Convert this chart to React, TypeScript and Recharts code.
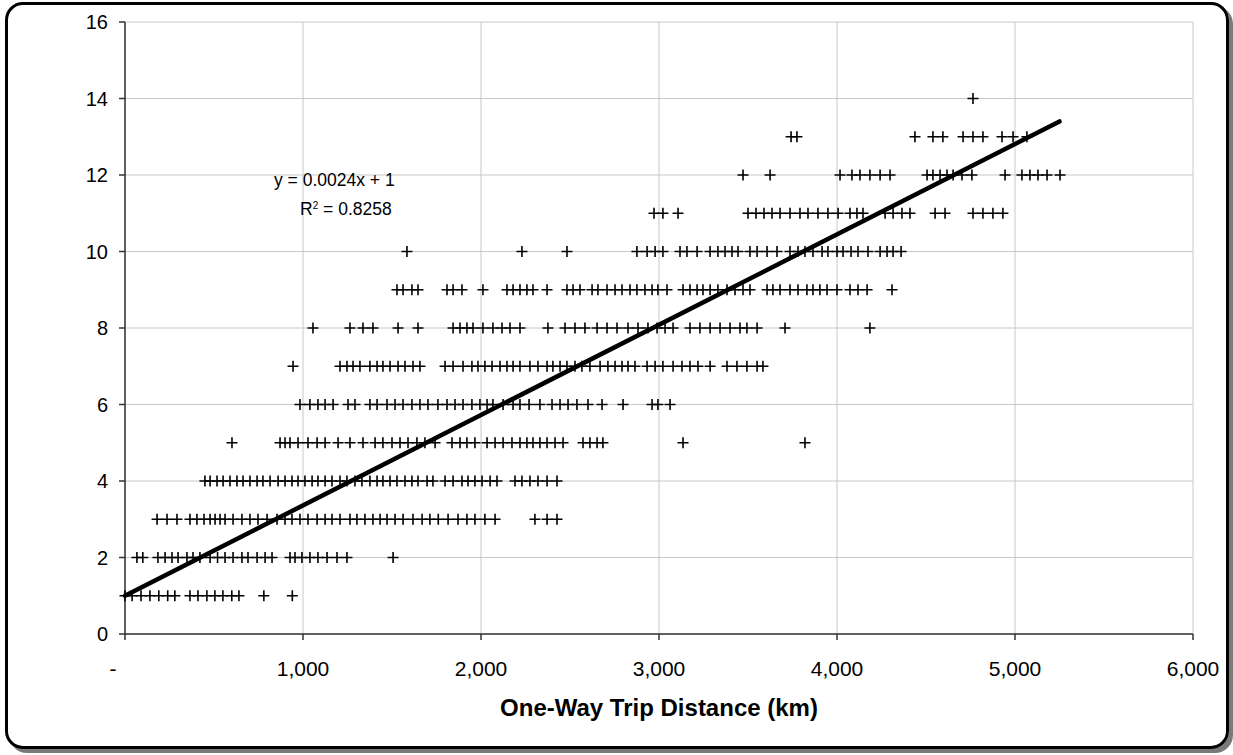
import React from "react";
import {
  ScatterChart,
  Scatter,
  XAxis,
  YAxis,
  CartesianGrid,
  ReferenceLine,
} from "recharts";

// distances (km) of each point, grouped by the whole-number value on the y axis
const level1 = [0, 40, 90, 140, 190, 240, 280, 365, 410, 460, 505, 550, 600, 640, 780, 940];
const level2 = [
  67, 100, 185, 225, 264, 298, 348, 382, 421, 478, 520, 562, 607, 657, 691, 742, 787, 826, 927, 955,
  994, 1039, 1084, 1135, 1191, 1247, 1506,
];
const level3 = [
  180, 236, 292, 365, 404, 444, 478, 506, 534, 562, 607, 657, 702, 747, 798, 854, 899, 938, 983, 1028,
  1079, 1124, 1163, 1208, 1264, 1303, 1348, 1393, 1433, 1472, 1517, 1562, 1618, 1669, 1713, 1760,
  1815, 1871, 1921, 1966, 2022, 2079, 2303, 2371, 2427,
];
const level4 = [
  449, 478, 517, 551, 590, 629, 663, 702, 742, 775, 815, 860, 899, 938, 972, 1011, 1051, 1084, 1124,
  1163, 1208, 1247, 1292, 1331, 1376, 1416, 1449, 1489, 1528, 1573, 1612, 1646, 1697, 1730, 1798,
  1843, 1893, 1927, 1966, 2006, 2051, 2090, 2191, 2230, 2275, 2320, 2371, 2427,
];
const level5 = [
  601, 871, 899, 927, 972, 1028, 1079, 1124, 1197, 1264, 1337, 1405, 1449, 1500, 1545, 1590, 1640,
  1685, 1742, 1837, 1882, 1921, 1966, 2034, 2079, 2124, 2174, 2219, 2258, 2292, 2331, 2371, 2416,
  2461, 2573, 2612, 2652, 2685, 3135, 3820,
];
const level6 = [
  983, 1039, 1084, 1124, 1169, 1253, 1292, 1376, 1416, 1472, 1517, 1562, 1612, 1657, 1702, 1758,
  1809, 1854, 1899, 1949, 1994, 2034, 2067, 2124, 2180, 2219, 2270, 2331, 2399, 2444, 2489, 2539,
  2601, 2680, 2798, 2961, 2994, 3062,
];
const level7 = [
  944, 1208, 1247, 1281, 1320, 1376, 1416, 1449, 1489, 1534, 1573, 1618, 1657, 1798, 1843, 1899,
  1949, 1983, 2022, 2062, 2107, 2146, 2180, 2219, 2275, 2320, 2371, 2404, 2444, 2483, 2528, 2567,
  2612, 2669, 2713, 2753, 2792, 2826, 2865, 2933, 2978, 3022, 3079, 3129, 3174, 3219, 3287, 3382,
  3438, 3494, 3551, 3584,
];
const level8 = [
  1056, 1264, 1337, 1393, 1534, 1646, 1843, 1882, 1921, 1955, 2011, 2067, 2118, 2163, 2219, 2376,
  2472, 2528, 2584, 2652, 2708, 2764, 2826, 2882, 2938, 2989, 3034, 3079, 3174, 3230, 3287, 3343,
  3399, 3455, 3494, 3551, 3708, 4185,
];
const level9 = [
  1528, 1562, 1612, 1646, 1809, 1843, 1893, 2011, 2146, 2180, 2219, 2258, 2292, 2371, 2483, 2517,
  2556, 2624, 2657, 2708, 2753, 2792, 2837, 2876, 2921, 2961, 2994, 3045, 3135, 3174, 3214, 3247,
  3287, 3331, 3382, 3427, 3472, 3511, 3607, 3640, 3680, 3736, 3781, 3831, 3865, 3904, 3944, 4000,
  4073, 4118, 4169, 4309,
];
const level10 = [
  1584, 2230, 2483, 2876, 2933, 2978, 3022, 3118, 3157, 3214, 3287, 3331, 3371, 3410, 3444, 3511,
  3551, 3607, 3663, 3736, 3781, 3820, 3865, 3916, 3949, 4000, 4034, 4079, 4118, 4174, 4242, 4281,
  4315, 4360,
];
const level11 = [
  2972, 3022, 3107, 3500, 3545, 3590, 3635, 3680, 3736, 3792, 3837, 3893, 3949, 4006, 4073, 4112,
  4146, 4270, 4315, 4365, 4410, 4551, 4607, 4764, 4820, 4876, 4932,
];
const level12 = [
  3472, 3624, 4017, 4084, 4129, 4185, 4242, 4298, 4506, 4539, 4579, 4618, 4652, 4702, 4758, 4944,
  5039, 5084, 5129, 5180, 5253,
];
const level13 = [3742, 3775, 4438, 4539, 4595, 4708, 4764, 4820, 4927, 4989, 5067];
const level14 = [4764];

const levels = [level1, level2, level3, level4, level5, level6, level7, level8, level9, level10, level11, level12, level13, level14];

const xTicks = [0, 1000, 2000, 3000, 4000, 5000, 6000];
const yTicks = [0, 2, 4, 6, 8, 10, 12, 14, 16];

// fitted trend line end points
const trendStart = { x: 0, y: 1 };
const trendEnd = { x: 5250, y: 13.4 };

const points = levels.flatMap((kms, i) => kms.map((x) => ({ x, y: i + 1 })));

const FONT = '"Liberation Sans", Arial, sans-serif';

const Plus = (props: any) => {
  const { cx, cy } = props;
  if (cx == null || cy == null) return <g />;
  return (
    <path
      d={`M${cx - 5.5},${cy}h11M${cx},${cy - 5.5}v11`}
      stroke="#000"
      strokeWidth={1.6}
      fill="none"
    />
  );
};

const XTick = (props: any) => {
  const { x, y, payload } = props;
  const v = payload.value as number;
  const label = v === 0 ? "-" : v.toLocaleString("en-US");
  return (
    <text
      x={v === 0 ? x - 12 : x}
      y={y + 34}
      textAnchor="middle"
      fill="#000"
      fontSize={21}
      fontFamily={FONT}
    >
      {label}
    </text>
  );
};

export default function App() {
  return (
    <div style={{ position: "absolute", left: 0, top: 0, width: 1233, height: 755, background: "#fff" }}>
      <div
        style={{
          position: "absolute",
          left: 5,
          top: 2,
          width: 1218,
          height: 741,
          border: "3px solid #000",
          borderRadius: 18,
          boxShadow: "4px 4px 0 #7a7a7a",
        }}
      />
      <div style={{ position: "absolute", left: 0, top: 0 }}>
        <ScatterChart width={1233} height={755} margin={{ top: 22, right: 40, bottom: 0, left: 0 }}>
          <CartesianGrid stroke="#c8c8c8" strokeWidth={1} />
          <XAxis
            type="number"
            dataKey="x"
            domain={[0, 6000]}
            ticks={xTicks}
            height={121}
            tick={<XTick />}
            tickSize={6}
            stroke="#333"
            strokeWidth={1.5}
            label={{
              value: "One-Way Trip Distance (km)",
              position: "insideBottom",
              offset: 39,
              style: { fontSize: 24, fontWeight: "bold", fill: "#000", fontFamily: FONT },
            }}
          />
          <YAxis
            type="number"
            dataKey="y"
            domain={[0, 16]}
            ticks={yTicks}
            width={125}
            tickSize={6}
            tickMargin={11}
            stroke="#333"
            strokeWidth={1.5}
            tick={{ fill: "#000", fontSize: 20, fontFamily: FONT }}
          />
          <Scatter data={points} shape={<Plus />} isAnimationActive={false} />
          <ReferenceLine
            segment={[trendStart, trendEnd]}
            stroke="#000"
            strokeWidth={4.5}
            strokeLinecap="round"
            ifOverflow="visible"
          />
        </ScatterChart>
      </div>
      <div
        style={{
          position: "absolute",
          left: 274,
          top: 170,
          fontFamily: FONT,
          fontSize: 17.5,
          lineHeight: "20px",
          color: "#000",
          whiteSpace: "nowrap",
        }}
      >
        y = 0.0024x + 1
      </div>
      <div
        style={{
          position: "absolute",
          left: 300,
          top: 199,
          fontFamily: FONT,
          fontSize: 17.5,
          lineHeight: "20px",
          color: "#000",
          whiteSpace: "nowrap",
        }}
      >
        R<sup style={{ fontSize: 10, verticalAlign: "6px", lineHeight: 0 }}>2</sup> = 0.8258
      </div>
    </div>
  );
}
